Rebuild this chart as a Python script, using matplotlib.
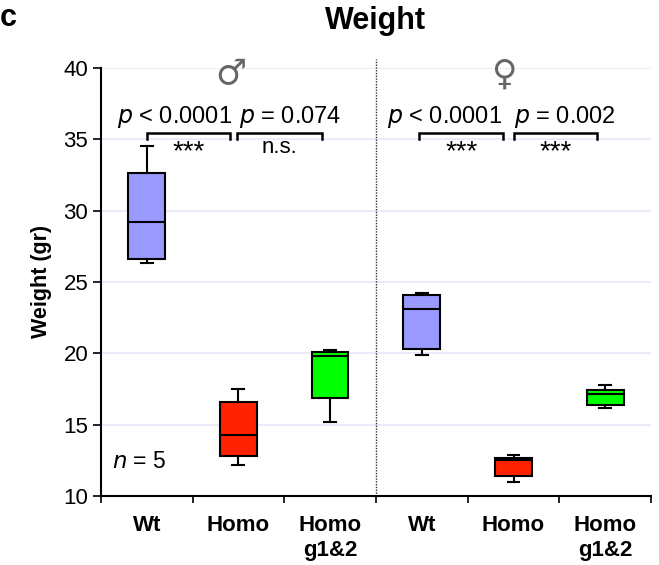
import matplotlib
matplotlib.use("Agg")
import matplotlib.pyplot as plt
from matplotlib import font_manager

# ---------------- data ----------------
groups = ["Wt", "Homo", "Homo\ng1&2", "Wt", "Homo", "Homo\ng1&2"]
whislo = [26.3, 12.2, 15.2, 19.9, 11.0, 16.2]
q1 = [26.6, 12.8, 16.9, 20.3, 11.4, 16.35]
med = [29.2, 14.3, 19.8, 23.1, 12.55, 17.15]
q3 = [32.6, 16.6, 20.1, 24.05, 12.7, 17.42]
whishi = [34.5, 17.5, 20.25, 24.2, 12.85, 17.75]
colors = ["#9999FF", "#FF2200", "#00FF00", "#9999FF", "#FF2200", "#00FF00"]

# comparisons
comp_start = [0.5, 1.48, 3.47, 4.5]
comp_end = [1.41, 2.41, 4.39, 5.41]
p_x = [0.80, 2.06, 3.75, 5.06]
p_rel = ["<", "=", "<", "="]
p_val = ["0.0001", "0.074", "0.0001", "0.002"]
sig = ["***", "n.s.", "***", "***"]

yticks = [10, 15, 20, 25, 30, 35, 40]

# ---------------- fonts ----------------
avail = {f.name for f in font_manager.fontManager.ttflist}
narrow = "Liberation Sans Narrow" if "Liberation Sans Narrow" in avail else "Liberation Sans"
base = "Liberation Sans"
plt.rcParams["font.family"] = [base, "DejaVu Sans"]

fig = plt.figure(figsize=(6.59, 5.65), dpi=100)
ax = fig.add_axes([0.153, 0.122, 0.835, 0.758])

positions = [i + 0.5 for i in range(len(groups))]
stats = []
for i in range(len(groups)):
    stats.append(dict(whislo=whislo[i], q1=q1[i], med=med[i], q3=q3[i],
                      whishi=whishi[i], fliers=[]))
bp = ax.bxp(stats, positions=positions, widths=0.4, patch_artist=True,
            showfliers=False,
            boxprops=dict(linewidth=1.5, edgecolor="black"),
            medianprops=dict(color="black", linewidth=1.5),
            whiskerprops=dict(color="black", linewidth=1.5),
            capprops=dict(color="black", linewidth=1.5),
            capwidths=0.13)
for patch, c in zip(bp["boxes"], colors):
    patch.set_facecolor(c)
    patch.set_zorder(3)
for k in ("medians", "whiskers", "caps"):
    for l in bp[k]:
        l.set_zorder(3)

ax.set_xlim(0, 6)
ax.set_ylim(10, 40)
ax.set_yticks(yticks)
ax.set_yticklabels([str(v) for v in yticks], fontfamily=narrow, fontsize=16)
for y in yticks[1:]:
    ax.axhline(y, color="#E6E6F7", linewidth=1.2, zorder=0)

ax.set_xticks(range(7))
ax.set_xticklabels([])
ax.tick_params(axis="x", direction="out", length=5, width=1.2)
ax.tick_params(axis="y", direction="out", length=6, width=1.2, pad=3)
for i, g in enumerate(groups):
    ax.text(positions[i], -0.045, g, transform=ax.get_xaxis_transform(),
            ha="center", va="top", fontsize=16, fontweight="bold",
            fontfamily=narrow, linespacing=1.25)

for s in ("top", "right"):
    ax.spines[s].set_visible(False)
for s in ("left", "bottom"):
    ax.spines[s].set_linewidth(1.5)

# divider
ax.plot([3, 3], [10, 40.6], color="#333333", linestyle=(0, (1, 1)),
        linewidth=1.0, clip_on=False, zorder=2)

# sex symbols
ax.text(1.42, 39.6, "♂", ha="center", va="center", fontsize=25,
        family=["DejaVu Sans"], color="#666666")
ax.text(4.39, 39.5, "♀", ha="center", va="center", fontsize=25,
        family=["DejaVu Sans"], color="#666666")

# brackets and p values
for i in range(4):
    x0, x1 = comp_start[i], comp_end[i]
    ax.plot([x0, x0, x1, x1], [35.0, 35.4, 35.4, 35.0], color="black",
            linewidth=1.8, solid_joinstyle="miter", zorder=4)
    xm = (x0 + x1) / 2
    if sig[i] == "***":
        ax.text(xm, 34.1, sig[i], ha="center", va="center", fontsize=20)
    else:
        ax.text(xm, 34.05, sig[i], ha="center", va="baseline", fontsize=16)
    ax.text(p_x[i], 36.1, r"$\it{p}$ " + p_rel[i] + " " + p_val[i],
            ha="center", va="baseline", fontsize=17)

ax.text(0.12, 12.0, r"$\it{n}$ = 5", ha="left", va="baseline", fontsize=16.5)

ax.set_ylabel("Weight (gr)", fontsize=15.5, fontweight="bold", labelpad=8)
ax.set_title("Weight", fontsize=22, fontweight="bold", pad=28)
fig.text(0.0, 0.968, "c", fontsize=22, fontweight="bold", ha="left", va="center")

fig.savefig("out.png", dpi=100)
